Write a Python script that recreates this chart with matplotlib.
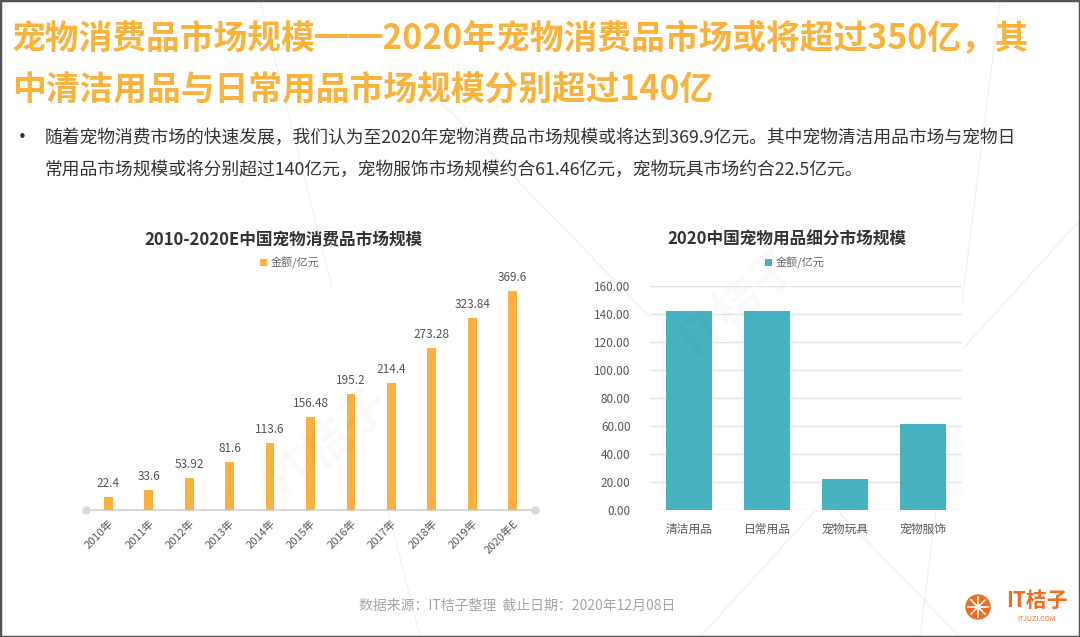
import numpy as np
import matplotlib
matplotlib.use('Agg')
import matplotlib.pyplot as plt
from matplotlib.patches import Rectangle, Ellipse

plt.rcParams['font.family'] = ['Noto Sans CJK SC', 'DejaVu Sans']

# ---- data ----
years = ['2010年', '2011年', '2012年', '2013年', '2014年', '2015年',
         '2016年', '2017年', '2018年', '2019年', '2020年E']
market_size = [22.4, 33.6, 53.92, 81.6, 113.6, 156.48, 195.2, 214.4,
               273.28, 323.84, 369.6]
size_labels = ['22.4', '33.6', '53.92', '81.6', '113.6', '156.48', '195.2',
               '214.4', '273.28', '323.84', '369.6']

segments = ['清洁用品', '日常用品', '宠物玩具', '宠物服饰']
segment_size = [142.0, 142.0, 22.5, 61.46]
seg_ticks = [0, 20, 40, 60, 80, 100, 120, 140, 160]

title_lines = ['宠物消费品市场规模\u2501\u25012020年宠物消费品市场或将超过350亿，其',
               '中清洁用品与日常用品市场规模分别超过140亿']
body_lines = ['随着宠物消费市场的快速发展，我们认为至2020年宠物消费品市场规模或将达到369.9亿元。其中宠物清洁用品市场与宠物日',
              '常用品市场规模或将分别超过140亿元，宠物服饰市场规模约合61.46亿元，宠物玩具市场约合22.5亿元。']
footer = '数据来源：IT桔子整理  截止日期：2020年12月08日'

ORANGE = '#FBB040'
TITLE_ORANGE = '#F9B23C'
TEAL = '#47B3C0'
LOGO = '#F26B21'
W, H = 1080, 637

fig = plt.figure(figsize=(10.8, 6.37), dpi=100)

def fx(px):
    return px / W

def fy(py):
    return 1 - py / H

# faint background lines
for (x0, y0, x1, y1) in [(260, 0, 420, 637), (430, 90, 960, 637), (700, 637, 1080, 220),
                         (1000, 0, 920, 637)]:
    fig.add_artist(plt.Line2D([fx(x0), fx(x1)], [fy(y0), fy(y1)], color='#f2f2f2',
                              lw=1, zorder=0))

# header
for i, line in enumerate(title_lines):
    fig.text(fx(12), fy(38 + 52 * i), line, fontsize=24.3, fontweight='bold',
             color=TITLE_ORANGE, va='center', ha='left')
fig.text(fx(22), fy(138), '•', fontsize=15, color='#333333', va='center', ha='center')
for i, line in enumerate(body_lines):
    fig.text(fx(45), fy(138 + 32 * i), line, fontsize=12.8, color='#333333',
             va='center', ha='left')

# ---- left chart ----
ax1 = fig.add_axes([fx(86), fy(510), fx(535 - 86), 224 / H])
x = np.arange(len(years))
bars = ax1.bar(x, market_size, width=0.22, color=ORANGE, label='金额/亿元', zorder=3)
ax1.bar_label(bars, labels=size_labels, padding=5, fontsize=8.5, color='#555555')
ax1.set_xlim(-0.55, len(years) - 0.45)
ax1.set_ylim(0, 378)
ax1.set_yticks([])
for s in ['top', 'right', 'left']:
    ax1.spines[s].set_visible(False)
ax1.spines['bottom'].set_color('#d9d9d9')
ax1.spines['bottom'].set_linewidth(1.5)
ax1.plot([0, 1], [0, 0], 'o', color='#d9d9d9', ms=5, transform=ax1.transAxes,
         clip_on=False, zorder=4)
ax1.set_xticks(x)
ax1.set_xticklabels(years, rotation=45, ha='right', rotation_mode='anchor',
                    fontsize=8, color='#595959')
ax1.tick_params(axis='x', length=0, pad=6)
fig.text(fx(283), fy(240), '2010-2020E中国宠物消费品市场规模', fontsize=12,
         fontweight='bold', color='#333333', ha='center', va='center')
ax1.legend(loc='center', bbox_to_anchor=(fx(290), fy(263)),
           bbox_transform=fig.transFigure, frameon=False, fontsize=8,
           handlelength=0.6, handleheight=0.6, handletextpad=0.4,
           labelcolor='#666666')

# ---- right chart ----
ax2 = fig.add_axes([fx(650), fy(510), fx(962 - 650), 224 / H])
xs = np.arange(len(segments))
ax2.bar(xs, segment_size, width=0.58, color=TEAL, label='金额/亿元', zorder=3)
ax2.set_xlim(-0.5, len(segments) - 0.5)
ax2.set_ylim(0, 160)
ax2.set_yticks(seg_ticks)
ax2.set_yticklabels([f'{v:.2f}' for v in seg_ticks], fontsize=8.5, color='#595959')
ax2.grid(axis='y', color='#e3e3e3', lw=1, zorder=0)
for s in ['top', 'right', 'left', 'bottom']:
    ax2.spines[s].set_visible(False)
ax2.set_xticks(xs)
ax2.set_xticklabels(segments, fontsize=8.5, color='#595959')
ax2.tick_params(axis='both', length=0)
ax2.tick_params(axis='y', pad=14)
ax2.tick_params(axis='x', pad=9)
fig.text(fx(787), fy(240), '2020中国宠物用品细分市场规模', fontsize=12,
         fontweight='bold', color='#333333', ha='center', va='center')
ax2.legend(loc='center', bbox_to_anchor=(fx(795), fy(263)),
           bbox_transform=fig.transFigure, frameon=False, fontsize=8,
           handlelength=0.6, handleheight=0.6, handletextpad=0.4,
           labelcolor='#666666')

# faint watermarks
for (wx, wy) in [(330, 440), (740, 300)]:
    fig.text(fx(wx), fy(wy), 'IT桔子', fontsize=34, color='#000000', alpha=0.025,
             rotation=40, ha='center', va='center', fontweight='bold')

# footer
fig.text(fx(517), fy(606), footer, fontsize=10, color='#a6a6a6',
         ha='center', va='center')

# logo: orange slice
cx, cy, r = 978, 607, 12
fig.add_artist(Ellipse((fx(cx), fy(cy)), 2 * r / W, 2 * r / H, color=LOGO,
                       transform=fig.transFigure))
for ang in np.arange(0, 180, 45):
    dx, dy = np.cos(np.radians(ang)) * (r - 2), np.sin(np.radians(ang)) * (r - 2)
    fig.add_artist(plt.Line2D([fx(cx - dx), fx(cx + dx)], [fy(cy - dy), fy(cy + dy)],
                              color='white', lw=1.2))
fig.text(fx(1037), fy(600), 'IT桔子', fontsize=15, fontweight='bold',
         color=LOGO, ha='center', va='center')
fig.text(fx(1036), fy(619), 'ITJUZI.COM', fontsize=5, color=LOGO,
         ha='center', va='center')

# frame
fig.add_artist(Rectangle((0, 0), 1, 1, fill=False, ec='#555555', lw=2.5,
                         transform=fig.transFigure))

fig.savefig('out.png', dpi=100)
